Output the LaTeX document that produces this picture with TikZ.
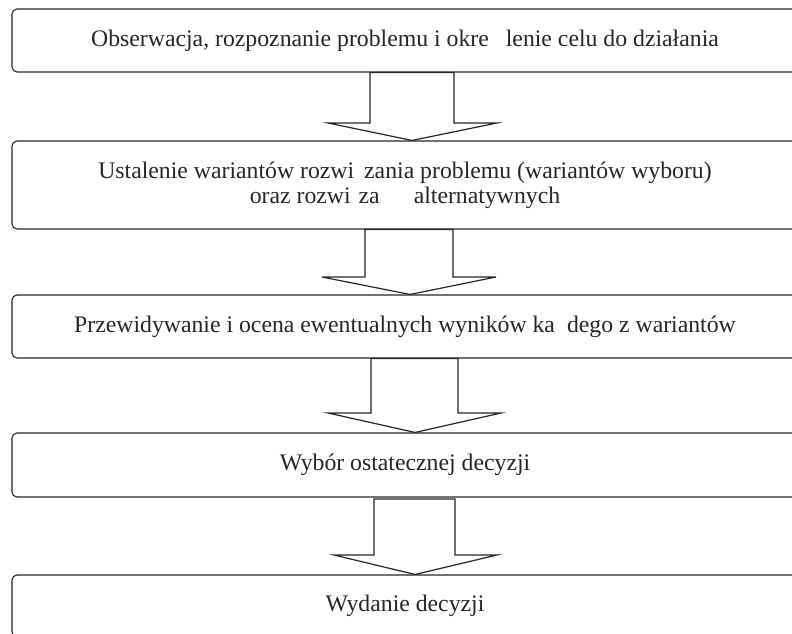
\documentclass[tikz,border=0pt]{standalone}
\usepackage{fontspec}
\setmainfont{Liberation Serif}
\begin{document}
\begin{tikzpicture}[x=1pt,y=-1pt,
  box/.style={draw=black!85, line width=1.1pt, rounded corners=5pt, minimum width=786pt,
    inner sep=0pt, align=center, text=black!85, font=\fontsize{23.75}{25}\selectfont},
  blockarrow/.style={draw=black!85, line width=1.2pt, fill=white, line join=miter}]
\useasboundingbox (0,0) rectangle (792,634);
\clip (0,0) rectangle (792,634);
\node[box, minimum height=63pt] (b1) at (405,40.5)
  {Obserwacja, rozpoznanie problemu i okre\hspace{17pt}lenie celu do działania};
\node[box, minimum height=88pt] (b2) at (405,185)
  {Ustalenie wariantów rozwi\hspace{10pt}zania problemu (wariantów wyboru)\\
   oraz rozwi\hspace{8pt}za\hspace{34pt}alternatywnych};
\node[box, minimum height=63pt] (b3) at (405,326.5)
  {Przewidywanie i ocena ewentualnych wyników ka\hspace{12pt}dego z wariantów};
\node[box, minimum height=64pt] (b4) at (405,465)
  {Wybór ostatecznej decyzji};
\node[box, minimum height=62pt] (b5) at (405,606)
  {Wydanie decyzji};
\draw[blockarrow] (b1.south -| 370,0) -- (370,123) -- (328,123) -- (b2.north -| 412,0)
  -- (497,123) -- (454,123) -- (b1.south -| 454,0) -- cycle;
\draw[blockarrow] (b2.south -| 365,0) -- (365,277) -- (322,277) -- (b3.north -| 410,0)
  -- (496,277) -- (453,277) -- (b2.south -| 453,0) -- cycle;
\draw[blockarrow] (b3.south -| 371,0) -- (371,413) -- (328,413) -- (b4.north -| 415,0)
  -- (501,413) -- (458,413) -- (b3.south -| 458,0) -- cycle;
\draw[blockarrow] (374,499) -- (374,555) -- (334,555) -- (b5.north -| 415,0)
  -- (497,555) -- (455,555) -- (455,499) -- cycle;
\end{tikzpicture}
\end{document}
